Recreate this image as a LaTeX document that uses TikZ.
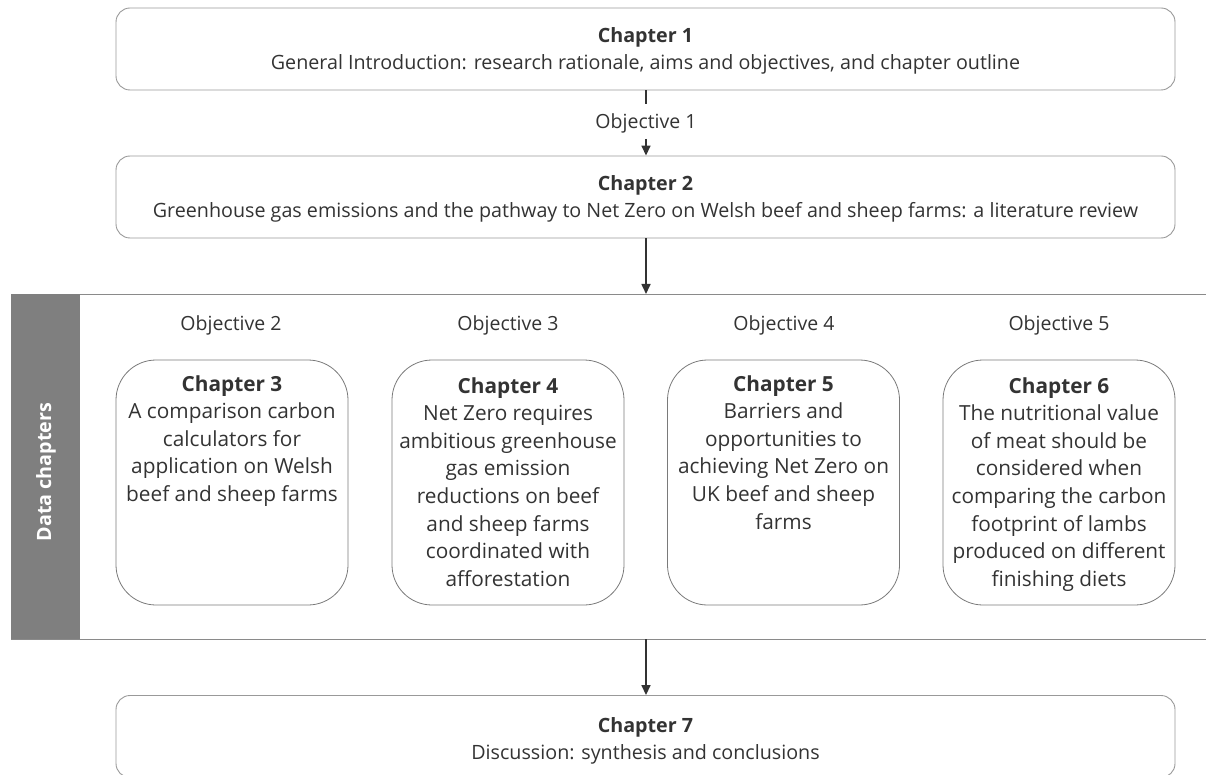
\documentclass[tikz,border=0pt]{standalone}
\usepackage{fontspec}
\setmainfont{Open Sans}
\usetikzlibrary{arrows.meta}
\definecolor{txt}{HTML}{333333}
\definecolor{edge}{HTML}{999999}
\definecolor{band}{HTML}{7F7F7F}
\definecolor{arr}{HTML}{333333}
\tikzset{
  widebox/.style={draw=edge, line width=0.9pt, rounded corners=14pt, minimum width=1059pt, minimum height=82pt, inner sep=0pt},
  chapbox/.style={draw=edge!80!black, line width=0.8pt, rounded corners=40pt, minimum width=232pt, minimum height=245pt, inner sep=0pt},
  lbl/.style={text=txt, font=\fontsize{19.7}{27}\selectfont, align=center, inner sep=0pt},
  clbl/.style={text=txt, font=\fontsize{20.8}{27.6}\selectfont, align=center, inner sep=0pt, anchor=north},
  obj/.style={text=txt, font=\fontsize{19.5}{27}\selectfont, inner sep=0pt},
  conn/.style={draw=arr, line width=1.6pt, -{Triangle[width=9pt,length=10pt]}},
}
\begin{document}
\begin{tikzpicture}[x=1pt,y=-1pt]
\useasboundingbox (0,0) rectangle (1206,775);
% band
\draw[edge!90!black, line width=0.9pt] (11,294) -- (1206,294);
\draw[edge!90!black, line width=0.9pt] (11,639) -- (1206,639);
\fill[band] (11,294) rectangle (80,639);
\node[rotate=90, text=white, font=\fontsize{19.7}{22}\selectfont\bfseries] (dc) at (46,472) {Data chapters};
% wide boxes
\node[widebox] (c1) at (645.5,49) {};
\node[lbl] (c1t) at (645.5,37) {\textbf{Chapter 1}};
\node[lbl] (c1d) at (645.5,64) {General Introduction: research rationale, aims and objectives, and chapter outline};
\node[widebox] (c2) at (645.5,197) {};
\node[lbl] (c2t) at (645.5,185) {\textbf{Chapter 2}};
\node[lbl] (c2d) at (645.5,212) {Greenhouse gas emissions and the pathway to Net Zero on Welsh beef and sheep farms: a literature review};
\node[widebox] (c7) at (645.5,736.5) {};
\node[lbl] (c7t) at (645.5,727) {\textbf{Chapter 7}};
\node[lbl] (c7d) at (645.5,754) {Discussion: synthesis and conclusions};
% objective 1
\node[obj] (o1) at (646,123) {Objective 1};
\draw[arr, line width=1.6pt] (c1.south -| o1) -- ++(0,14);
\draw[conn] (o1.south) ++(0,6) coordinate (o1s) -- (c2.north -| o1);
\coordinate (bandtop) at (646,294);
\coordinate (bandbot) at (646,639);
\draw[conn] (c2.south -| bandtop) -- (bandtop);
\draw[conn] (bandbot) -- (c7.north -| bandbot);
% objectives
\node[obj] (o2) at (231,325) {Objective 2};
\node[obj] (o3) at (508,325) {Objective 3};
\node[obj] (o4) at (784,325) {Objective 4};
\node[obj] (o5) at (1059,325) {Objective 5};
% chapter boxes
\node[chapbox] (c3) at (232,482.5) {};
\node[chapbox] (c4) at (508,482.5) {};
\node[chapbox] (c5) at (783.5,482.5) {};
\node[chapbox] (c6) at (1059,482.5) {};
\node[clbl] (c3t) at (232,375) {\textbf{Chapter 3}\\A comparison carbon\\calculators for\\application on Welsh\\beef and sheep farms};
\node[clbl] (c4t) at (508,377) {\textbf{Chapter 4}\\Net Zero requires\\ambitious greenhouse\\gas emission\\reductions on beef\\and sheep farms\\coordinated with\\afforestation};
\node[clbl] (c5t) at (783.5,375) {\textbf{Chapter 5}\\Barriers and\\opportunities to\\achieving Net Zero on\\UK beef and sheep\\farms};
\node[clbl] (c6t) at (1059,377) {\textbf{Chapter 6}\\The nutritional value\\of meat should be\\considered when\\comparing the carbon\\footprint of lambs\\produced on different\\finishing diets};
\end{tikzpicture}
\end{document}
